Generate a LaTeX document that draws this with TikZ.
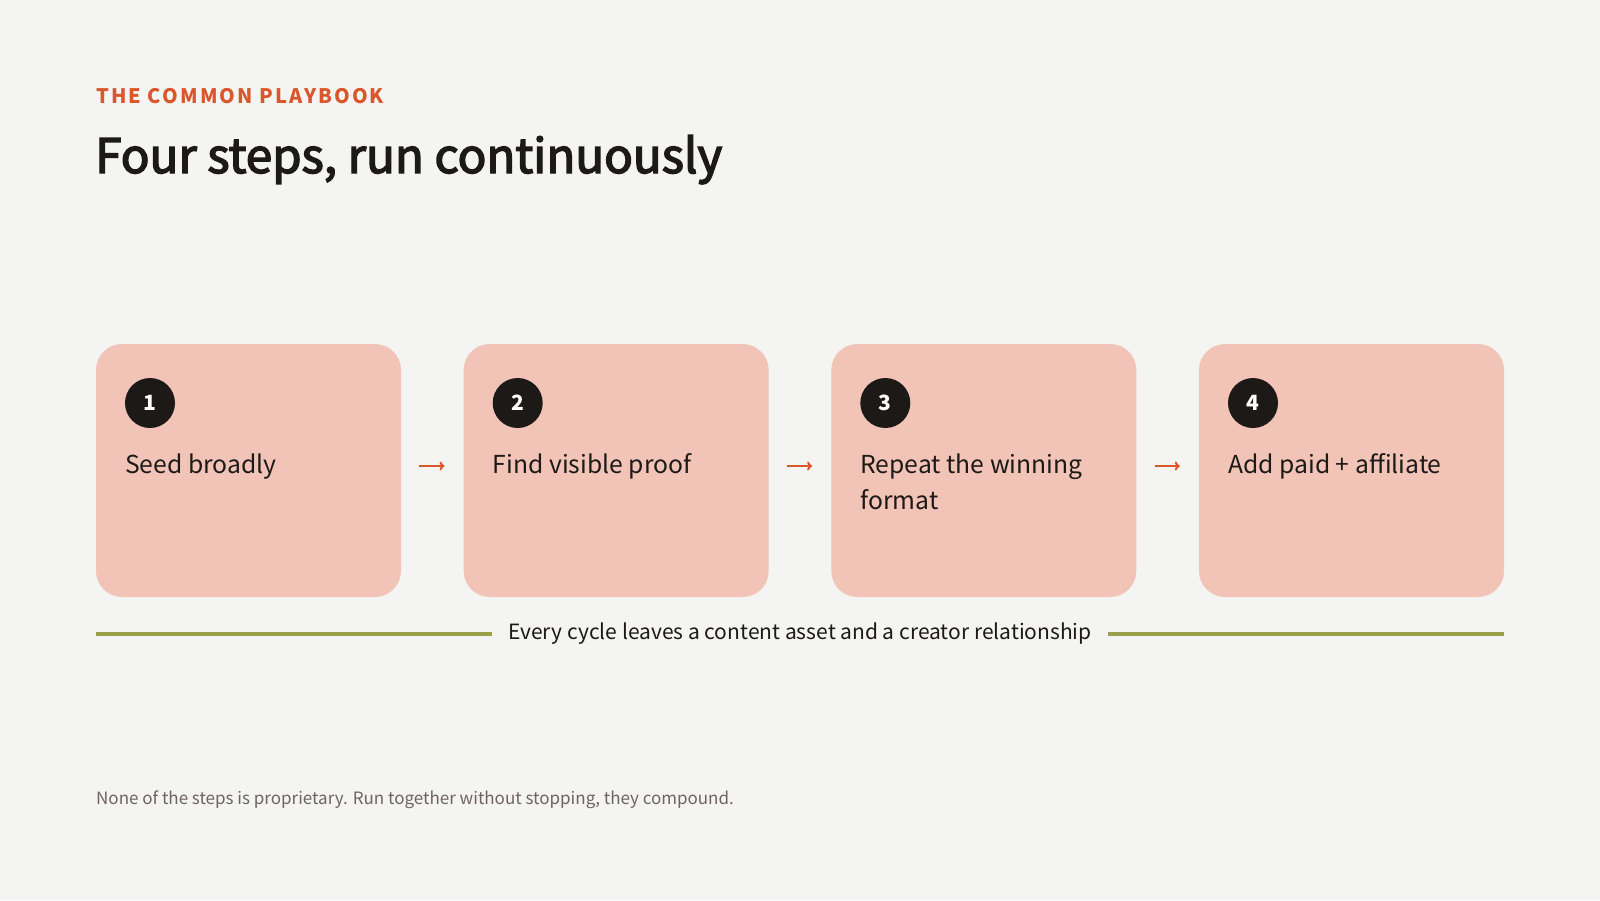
\documentclass[tikz,border=0pt]{standalone}
\usepackage{fontspec}
\setmainfont{Noto Sans CJK KR}
\newfontfamily\kickerfont[LetterSpace=10.5]{Noto Sans CJK KR}
\newfontfamily\headfont[FakeBold=3]{Noto Sans CJK KR}
\usetikzlibrary{arrows.meta,calc}
\definecolor{paper}{HTML}{F4F4F2}
\definecolor{peach}{HTML}{F2C4B8}
\definecolor{ink}{HTML}{1C1917}
\definecolor{rust}{HTML}{D9572B}
\definecolor{olive}{HTML}{9AA04A}
\definecolor{muted}{HTML}{6E6560}
\tikzset{
  stepbox/.style={fill=peach, rounded corners=26pt, minimum width=305pt, minimum height=253pt, inner sep=0pt},
  stepnum/.style={circle, fill=ink, minimum size=50pt, inner sep=0pt, text=white, font=\fontsize{21}{21}\selectfont\bfseries},
  steptext/.style={anchor=base west, align=left, inner sep=0pt, text=ink, font=\fontsize{24.7}{36}\selectfont},
  flow/.style={rust, line width=2pt, -{To[length=5pt,width=9pt]}, shorten <=18pt, shorten >=19pt},
  rule/.style={olive, line width=4pt}
}
\begin{document}
\begin{tikzpicture}[x=1pt,y=-1pt]
		%%%%% BACKGROUND %%%%%
		\fill[paper] (0,0) rectangle (1600,900);
		\useasboundingbox (0,0) rectangle (1600,900);
		
		%%%%% HEADING %%%%%
		\node[anchor=base west, inner sep=0pt, text=rust, font=\fontsize{20}{20}\selectfont\kickerfont\bfseries] (kicker) at (96,103) {THE COMMON PLAYBOOK};
		\node[anchor=base west, inner sep=0pt, text=ink, font=\fontsize{47.5}{48}\selectfont\headfont] (title) at (95,173) {Four steps, run continuously};
		
		%%%%% STEPS %%%%%
		\node[stepbox] (b1) at (248.5,470.5) {};
		\node[stepbox] (b2) at (616.2,470.5) {};
		\node[stepbox] (b3) at (983.8,470.5) {};
		\node[stepbox] (b4) at (1351.5,470.5) {};
		
		\node[stepnum] (n1) at (150,403) {1};
		\node[stepnum] (n2) at (517.7,403) {2};
		\node[stepnum] (n3) at (885.3,403) {3};
		\node[stepnum] (n4) at (1253,403) {4};
		
		\node[steptext] (t1) at (125,473) {Seed broadly};
		\node[steptext] (t2) at (492.7,473) {Find visible proof};
		\node[steptext] (t3) at (860.3,509) {Repeat the winning\\format};
		\node[steptext] (t4) at (1228,473) {Add paid + affiliate};
		
		\draw[flow] ([yshift=4.5pt]b1.east) -- ([yshift=4.5pt]b2.west);
		\draw[flow] ([yshift=4.5pt]b2.east) -- ([yshift=4.5pt]b3.west);
		\draw[flow] ([yshift=4.5pt]b3.east) -- ([yshift=4.5pt]b4.west);
		
		%%%%% CYCLE NOTE %%%%%
		\node[inner sep=0pt, text=ink, font=\fontsize{21}{21}\selectfont] (cycle) at (800,634) {Every cycle leaves a content asset and a creator relationship};
		\draw[rule] (b1.west |- cycle) -- ([xshift=-16pt]cycle.west);
		\draw[rule] ([xshift=16pt]cycle.east) -- (b4.east |- cycle);
		
		%%%%% FOOTNOTE %%%%%
		\node[anchor=base west, inner sep=0pt, text=muted, font=\fontsize{17}{17}\selectfont] (foot) at (96,804) {None of the steps is proprietary. Run together without stopping, they compound.};
		
	\end{tikzpicture}
\end{document}
